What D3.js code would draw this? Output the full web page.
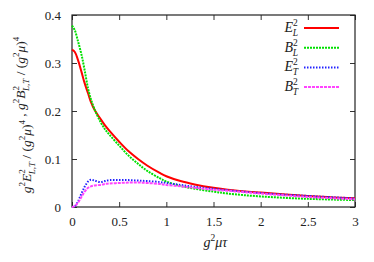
<!DOCTYPE html>
<html>
<head>
<meta charset="utf-8">
<script src="https://d3js.org/d3.v7.min.js"></script>
<style>
  body { margin: 0; background: #fff; }
  svg text { font-family: "Liberation Serif", "Times New Roman", "Liberation Sans", Arial, sans-serif; fill: #222; }
  .tick text { font-size: 13px; }
</style>
</head>
<body>
<div id="chart"></div>
<script>
// values
var tau = [0, 0.03, 0.064, 0.1, 0.134, 0.17, 0.2, 0.24, 0.3, 0.35, 0.4, 0.5, 0.6, 0.7, 0.8, 0.93, 1.0, 1.15, 1.3, 1.5, 1.65, 2.0, 2.5, 3.0];
var EL = [0.328, 0.323, 0.306, 0.282, 0.258, 0.237, 0.219, 0.202, 0.184, 0.170, 0.158, 0.136, 0.116, 0.100, 0.086, 0.071, 0.064, 0.054, 0.047, 0.040, 0.036, 0.030, 0.023, 0.018];
var BL = [0.378, 0.368, 0.345, 0.318, 0.285, 0.247, 0.225, 0.203, 0.178, 0.162, 0.150, 0.128, 0.107, 0.090, 0.075, 0.060, 0.053, 0.044, 0.038, 0.032, 0.028, 0.022, 0.017, 0.0145];
var ET = [0, 0.002, 0.012, 0.028, 0.042, 0.053, 0.057, 0.055, 0.052, 0.054, 0.056, 0.056, 0.056, 0.055, 0.054, 0.052, 0.050, 0.046, 0.042, 0.038, 0.035, 0.029, 0.023, 0.018];
var BT = [0, 0.002, 0.009, 0.021, 0.032, 0.040, 0.043, 0.045, 0.046, 0.048, 0.049, 0.050, 0.051, 0.051, 0.050, 0.048, 0.046, 0.043, 0.040, 0.036, 0.034, 0.028, 0.021, 0.016];

var xTicks = [0, 0.5, 1, 1.5, 2, 2.5, 3];
var yTicks = [0, 0.1, 0.2, 0.3, 0.4];

var seriesNames = ["E", "B", "E", "B"];
var seriesSubs = ["L", "L", "T", "T"];
var seriesValues = [EL, BL, ET, BT];

var colors = ["#ff0000", "#00e000", "#2222ff", "#ff44ff"];
var dashes = [null, "2,1", "1.5,1.5", "3,1"];

var margin = {top: 15, right: 19, bottom: 55, left: 72};
var winWidth = 374, winHeight = 262;
var width = winWidth - margin.left - margin.right;
var height = winHeight - margin.top - margin.bottom;

var svgparent = d3.select("#chart").append("svg")
  .attr("width", winWidth)
  .attr("height", winHeight);

var svg = svgparent.append("g")
  .attr("transform", "translate(" + margin.left + "," + margin.top + ")");

var x = d3.scaleLinear().domain([0, 3]).range([0, width]);
var y = d3.scaleLinear().domain([0, 0.4]).range([height, 0]);

// axes, ticks pointing inward on all four sides
var fmt = function(d) { return d === 0 ? "0" : String(d); };

svg.append("g")
  .attr("transform", "translate(0," + height + ")")
  .call(d3.axisBottom(x).tickValues(xTicks).tickFormat(fmt).tickSizeInner(-5).tickSizeOuter(0).tickPadding(10));
svg.append("g")
  .call(d3.axisTop(x).tickValues(xTicks).tickFormat("").tickSizeInner(-5).tickSizeOuter(0));
svg.append("g")
  .call(d3.axisLeft(y).tickValues(yTicks).tickFormat(fmt).tickSizeInner(-5).tickSizeOuter(0).tickPadding(11));
svg.append("g")
  .attr("transform", "translate(" + width + ",0)")
  .call(d3.axisRight(y).tickValues(yTicks).tickFormat("").tickSizeInner(-5).tickSizeOuter(0));

svg.selectAll(".domain").remove();
svg.selectAll("g").attr("font-family", null);
svg.selectAll(".tick line").attr("stroke", "#333");

svg.append("rect")
  .attr("width", width)
  .attr("height", height)
  .attr("fill", "none")
  .attr("stroke", "#222")
  .attr("stroke-width", 1.2);

// curves
var line = d3.line()
  .x(function(d) { return x(d[0]); })
  .y(function(d) { return y(d[1]); })
  .curve(d3.curveCatmullRom.alpha(0.5));

seriesValues.forEach(function(vals, i) {
  var pts = tau.map(function(t, j) { return [t, vals[j]]; });
  svg.append("path")
    .datum(pts)
    .attr("d", line)
    .attr("fill", "none")
    .attr("stroke", colors[i])
    .attr("stroke-width", 2)
    .attr("stroke-dasharray", dashes[i]);
});

// legend
var legend = svg.selectAll("g.legend")
  .data(seriesNames)
  .enter().append("g")
  .attr("class", "legend")
  .attr("transform", function(d, i) { return "translate(0," + (13 + i * 19.7) + ")"; });

legend.append("line")
  .attr("x1", 232).attr("x2", 267)
  .attr("stroke", function(d, i) { return colors[i]; })
  .attr("stroke-width", 2)
  .attr("stroke-dasharray", function(d, i) { return dashes[i]; });

var lt = legend.append("text")
  .attr("x", 226)
  .attr("y", 4)
  .attr("text-anchor", "end")
  .style("font-size", "14px");
lt.append("tspan").style("font-style", "italic").text(function(d) { return d; });
lt.append("tspan").attr("dy", -6).style("font-size", "9.5px").text("2");
lt.append("tspan").attr("dx", -5).attr("dy", 10).style("font-size", "9.5px").style("font-style", "italic")
  .text(function(d, i) { return seriesSubs[i]; });

// x label
var xl = svg.append("text")
  .attr("x", x(1.5) + 2)
  .attr("y", height + 40)
  .attr("text-anchor", "middle")
  .style("font-size", "14px");
xl.append("tspan").style("font-style", "italic").text("g");
xl.append("tspan").attr("dy", -6).style("font-size", "9.5px").text("2");
xl.append("tspan").attr("dy", 6).style("font-style", "italic").text("μτ");

// y label
var yl = svgparent.append("text")
  .attr("transform", "translate(31," + (margin.top + height / 2 + 4) + ") rotate(-90)")
  .attr("text-anchor", "middle")
  .style("font-size", "13.5px");

function addTerm(t, letter) {
  t.append("tspan").style("font-style", "italic").text("g");
  t.append("tspan").attr("dy", -6).style("font-size", "9px").text("2");
  t.append("tspan").attr("dy", 6).style("font-style", "italic").text(letter);
  t.append("tspan").attr("dy", -6).style("font-size", "9px").text("2");
  t.append("tspan").attr("dx", -5).attr("dy", 10).style("font-size", "9px").style("font-style", "italic").text("L,T");
  t.append("tspan").attr("dy", -4).text(" / (");
  t.append("tspan").style("font-style", "italic").text("g");
  t.append("tspan").attr("dy", -6).style("font-size", "9px").text("2");
  t.append("tspan").attr("dy", 6).style("font-style", "italic").text("μ");
  t.append("tspan").text(")");
  t.append("tspan").attr("dy", -6).style("font-size", "9px").text("4");
  t.append("tspan").attr("dy", 6).text("");
}
addTerm(yl, "E");
yl.append("tspan").text(" ,  ");
addTerm(yl, "B");
</script>
</body>
</html>
